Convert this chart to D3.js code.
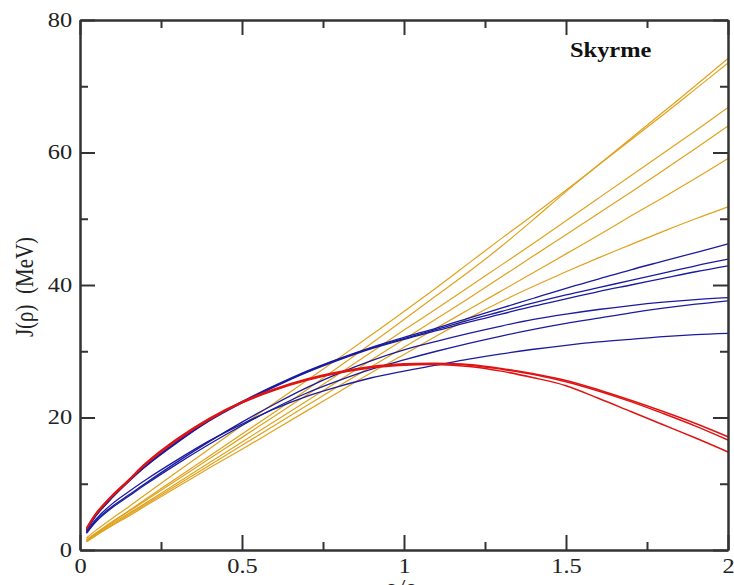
<!DOCTYPE html>
<html>
<head>
<meta charset="utf-8">
<script src="https://cdn.jsdelivr.net/npm/d3@7"></script>
<style>
html,body{margin:0;padding:0;background:#fff;}
svg{display:block;}
svg text{font-family:"Liberation Serif","Times New Roman",Times,serif;}
</style>
</head>
<body>
<svg id="chart" width="734" height="585"></svg>
<script>
// ---- data ----
const rho = [0.02,0.05,0.1,0.15,0.2,0.3,0.4,0.5,0.6,0.7,0.8,0.9,1.0,1.1,1.2,1.3,1.4,1.5,1.6,1.7,1.8,1.9,2.0];

const orangeSeries = [
  [1.6,2.6,4.3,5.9,7.6,10.9,14.2,17.5,20.8,24.2,27.7,31.2,34.8,38.4,42.0,45.8,49.9,54.1,58.1,62.1,66.1,70.1,74.2],
  [1.8,3.0,4.8,6.5,8.3,11.8,15.3,18.8,22.2,25.6,29.0,32.5,36.0,39.6,43.3,47.0,50.6,54.3,58.1,61.9,65.7,69.6,73.5],
  [1.5,2.5,4.2,5.8,7.4,10.6,13.8,17.0,20.2,23.4,26.6,29.9,33.2,36.4,39.7,43.0,46.3,49.7,53.1,56.5,59.9,63.3,66.8],
  [1.4,2.4,4.0,5.5,7.0,10.1,13.2,16.3,19.4,22.5,25.6,28.7,31.8,34.9,38.0,41.2,44.4,47.6,50.8,54.0,57.3,60.6,64.0],
  [1.3,2.3,3.8,5.3,6.8,9.8,12.8,15.8,18.8,21.8,24.8,27.7,30.6,33.5,36.3,39.1,41.9,44.7,47.5,50.4,53.2,56.1,59.1],
  [1.2,2.2,3.7,5.1,6.6,9.5,12.4,15.2,18.1,21.0,23.9,26.8,29.5,32.3,35.0,37.5,39.8,42.0,44.1,46.1,48.1,50.0,51.8]
];

const blueSeries = [
  [3.0,5.3,8.0,10.4,12.6,16.4,19.7,22.4,24.8,27.0,28.9,30.6,32.1,33.5,35.0,36.5,38.0,39.5,40.9,42.3,43.6,44.9,46.2],
  [3.0,5.3,8.0,10.4,12.6,16.3,19.6,22.3,24.7,26.9,28.8,30.5,31.9,33.3,34.7,36.0,37.3,38.5,39.6,40.7,41.8,42.9,43.9],
  [2.9,5.2,7.9,10.3,12.5,16.2,19.5,22.2,24.6,26.8,28.7,30.4,31.8,33.1,34.4,35.6,36.8,37.9,39.0,40.0,41.0,42.0,42.9],
  [2.6,4.5,6.6,8.3,10.0,13.3,16.4,19.3,22.0,24.5,26.7,28.6,30.2,31.5,32.7,33.8,34.8,35.6,36.3,36.9,37.4,37.8,38.1],
  [2.5,4.3,6.4,8.1,9.8,13.0,16.0,18.8,21.4,23.7,25.6,27.3,28.7,30.0,31.2,32.3,33.3,34.2,35.0,35.8,36.5,37.1,37.6],
  [2.7,4.7,7.0,8.8,10.5,13.6,16.5,19.0,21.3,23.2,24.7,26.0,27.0,27.9,28.8,29.6,30.3,30.9,31.4,31.8,32.2,32.5,32.7]
];

const redSeries = [
  [3.3,5.6,8.3,10.6,13.0,16.8,19.9,22.4,24.3,25.8,26.9,27.7,28.1,28.2,28.0,27.4,26.6,25.6,24.2,22.6,20.9,19.1,17.1],
  [3.2,5.5,8.2,10.5,12.9,16.7,19.8,22.3,24.2,25.7,26.8,27.6,28.0,28.1,27.9,27.3,26.5,25.4,24.0,22.4,20.6,18.7,16.6],
  [3.1,5.4,8.1,10.4,12.8,16.6,19.7,22.2,24.1,25.6,26.7,27.5,27.9,28.0,27.7,27.0,26.0,24.8,22.9,20.9,18.9,16.9,14.8]
];

const xMajor = [0, 0.5, 1, 1.5, 2];
const xMinor = [0.25, 0.75, 1.25, 1.75];
const yMajor = [0, 20, 40, 60, 80];
const yMinor = [10, 30, 50, 70];
const xLabels = ["0", "0.5", "1", "1.5", "2"];
const annotation = "Skyrme";

// ---- drawing ----
const svg = d3.select("#chart");
const mLeft = 80, mRight = 728, mTop = 20, mBottom = 550;
const x = d3.scaleLinear().domain([0, 2]).range([mLeft, mRight]);
const y = d3.scaleLinear().domain([0, 80]).range([mBottom, mTop]);
const SX = 1.22;

const line = d3.line().x((d, i) => x(rho[i])).y(d => y(d)).curve(d3.curveCatmullRom.alpha(0.5));

const plot = svg.append("g");
plot.selectAll("path.orange").data(orangeSeries).join("path")
  .attr("class", "orange").attr("d", line)
  .attr("fill", "none").attr("stroke", "#e0a21c").attr("stroke-width", 1.2);
plot.selectAll("path.blue").data(blueSeries).join("path")
  .attr("class", "blue").attr("d", line)
  .attr("fill", "none").attr("stroke", "#1b1ba0").attr("stroke-width", 1.3);
plot.selectAll("path.red").data(redSeries).join("path")
  .attr("class", "red").attr("d", line)
  .attr("fill", "none").attr("stroke", "#e01414").attr("stroke-width", 1.5);

function styleAxis(g) {
  g.selectAll("path.domain").attr("stroke", "#333").attr("stroke-width", 2);
  g.selectAll(".tick line").attr("stroke", "#333").attr("stroke-width", 2);
  g.attr("font-family", null);
}

// bottom
const gB = svg.append("g").attr("transform", `translate(0,${mBottom})`)
  .call(d3.axisBottom(x).tickValues(xMajor).tickSize(-15).tickSizeOuter(0).tickPadding(9)
    .tickFormat((d, i) => xLabels[i]));
gB.call(styleAxis);
gB.selectAll(".tick text").attr("font-size", 20).attr("fill", "#222")
  .attr("transform", `scale(${SX},1)`);
svg.append("g").attr("transform", `translate(0,${mBottom})`)
  .call(d3.axisBottom(x).tickValues(xMinor).tickSize(-8).tickSizeOuter(0).tickFormat(""))
  .call(styleAxis);

// top
svg.append("g").attr("transform", `translate(0,${mTop})`)
  .call(d3.axisTop(x).tickValues(xMajor).tickSize(-15).tickSizeOuter(0).tickFormat(""))
  .call(styleAxis);
svg.append("g").attr("transform", `translate(0,${mTop})`)
  .call(d3.axisTop(x).tickValues(xMinor).tickSize(-8).tickSizeOuter(0).tickFormat(""))
  .call(styleAxis);

// left
const gL = svg.append("g").attr("transform", `translate(${mLeft},0)`)
  .call(d3.axisLeft(y).tickValues(yMajor).tickSize(-15).tickSizeOuter(0).tickPadding(6.5)
    .tickFormat(d3.format("d")));
gL.call(styleAxis);
gL.selectAll(".tick text").attr("font-size", 20).attr("fill", "#222")
  .attr("transform", `scale(${SX},1)`);
svg.append("g").attr("transform", `translate(${mLeft},0)`)
  .call(d3.axisLeft(y).tickValues(yMinor).tickSize(-8).tickSizeOuter(0).tickFormat(""))
  .call(styleAxis);

// right
svg.append("g").attr("transform", `translate(${mRight},0)`)
  .call(d3.axisRight(y).tickValues(yMajor).tickSize(-15).tickSizeOuter(0).tickFormat(""))
  .call(styleAxis);
svg.append("g").attr("transform", `translate(${mRight},0)`)
  .call(d3.axisRight(y).tickValues(yMinor).tickSize(-8).tickSizeOuter(0).tickFormat(""))
  .call(styleAxis);

// y title
svg.append("text")
  .attr("transform", `translate(33,287) rotate(-90) scale(1,${SX})`)
  .attr("text-anchor", "middle")
  .attr("font-size", 21).attr("fill", "#222")
  .text("J(ρ)\u00a0\u00a0(MeV)");

// x title (partly cut off at the bottom edge, as in the reference)
const xt = svg.append("text")
  .attr("transform", `translate(406,594) scale(${SX},1)`)
  .attr("text-anchor", "middle")
  .attr("font-size", 21).attr("fill", "#222");
xt.append("tspan").text("ρ/ρ");
xt.append("tspan").attr("font-size", 14).attr("dy", 5).text("0");

// annotation
svg.append("text")
  .attr("transform", `translate(570,57) scale(${SX},1)`)
  .attr("font-size", 20).attr("font-weight", "bold").attr("fill", "#111")
  .text(annotation);
</script>
</body>
</html>
